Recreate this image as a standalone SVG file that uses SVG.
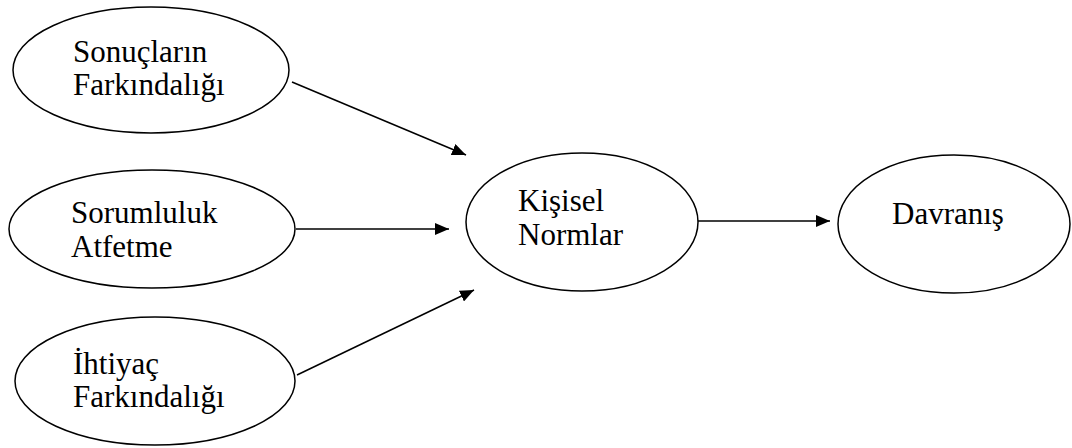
<svg xmlns="http://www.w3.org/2000/svg" width="1072" height="448" viewBox="0 0 1072 448">
<defs>
<marker id="arr" viewBox="0 0 14 12" refX="14" refY="6" markerWidth="14" markerHeight="12" markerUnits="userSpaceOnUse" orient="auto">
<path d="M0,0 L14,6 L0,12 Z" fill="#000"/>
</marker>
<style>
.node ellipse{fill:#fff;stroke:#000;stroke-width:1.5}
.node text{font-family:"Times New Roman","Liberation Serif",Tinos,serif;font-size:31px;fill:#000}
.edges line{stroke:#000;stroke-width:1.5;marker-end:url(#arr)}
</style>
</defs>
<rect width="1072" height="448" fill="#fff"/>
<g class="edges" id="connectors">
<line x1="292" y1="82" x2="466" y2="155"/>
<line x1="296" y1="229" x2="449" y2="229"/>
<line x1="297" y1="375" x2="474" y2="290"/>
<line x1="698" y1="221" x2="830" y2="221"/>
</g>
<g class="node" id="n-sonuclarin">
<ellipse cx="151" cy="70" rx="138" ry="63"/>
<text x="73" y="62">Sonuçların</text>
<text x="73" y="95">Farkındalığı</text>
</g>
<g class="node" id="n-sorumluluk">
<ellipse cx="152" cy="229" rx="143" ry="59"/>
<text x="71" y="223">Sorumluluk</text>
<text x="71" y="257">Atfetme</text>
</g>
<g class="node" id="n-ihtiyac">
<ellipse cx="155" cy="381" rx="140" ry="64"/>
<text x="73" y="374">İhtiyaç</text>
<text x="73" y="407">Farkındalığı</text>
</g>
<g class="node" id="n-kisisel">
<ellipse cx="582" cy="222" rx="116" ry="69"/>
<text x="518" y="211">Kişisel</text>
<text x="518" y="245">Normlar</text>
</g>
<g class="node" id="n-davranis">
<ellipse cx="954" cy="224" rx="116" ry="69"/>
<text x="892" y="224">Davranış</text>
</g>
</svg>
